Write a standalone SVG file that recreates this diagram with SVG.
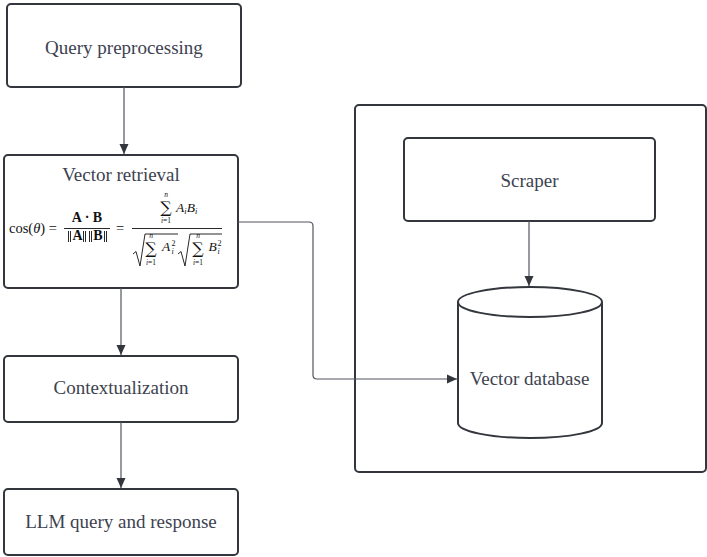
<svg xmlns="http://www.w3.org/2000/svg" width="707" height="557" viewBox="0 0 707 557">
  <style>
    .box { fill: #ffffff; stroke: #33363d; stroke-width: 2; }
    .lbl { font-family: "Liberation Serif", "DejaVu Serif", serif; font-size: 19px; fill: #3d4250; text-anchor: middle; }
    .wire { fill: none; stroke: #50555e; stroke-width: 1.2; }
    .m { font-family: "Liberation Serif", "DejaVu Serif", serif; fill: #111; }
    .sig { font-family: "DejaVu Serif", serif; fill: #111; font-size: 16px; text-anchor: middle; }
    .lim { font-family: "Liberation Serif", "DejaVu Serif", serif; fill: #111; font-size: 7.5px; text-anchor: middle; }
    .mi { font-style: italic; }
    .mb { font-weight: bold; }
    .rule { stroke: #111; stroke-width: 0.9; fill: none; }
  </style>
  <defs>
    <marker id="arrow" markerUnits="userSpaceOnUse" markerWidth="10" markerHeight="12" viewBox="0 0 10 12" refX="10" refY="6" orient="auto">
      <path d="M0,1.5 L10,6 L0,10.5 z" fill="#33363d"/>
    </marker>
  </defs>

  <rect width="707" height="557" fill="#ffffff"/>

  <!-- outer container for the ingestion side -->
  <g id="ingest-container">
    <rect class="box" x="355" y="105" width="351" height="367" rx="4"/>
  </g>

  <g id="query-preprocessing">
    <rect class="box" x="7" y="4" width="234" height="83" rx="4"/>
    <text class="lbl" x="124" y="54">Query preprocessing</text>
  </g>

  <g id="vector-retrieval">
    <rect class="box" x="4" y="155" width="234" height="133" rx="4"/>
    <text class="lbl" x="121" y="181">Vector retrieval</text>
    <!-- cosine similarity formula -->
    <g id="formula">
      <text class="m" x="9" y="233" font-size="14.5">cos(<tspan class="mi">θ</tspan>) =</text>
      <text class="m mb" x="87" y="222" font-size="14" text-anchor="middle">A · B</text>
      <line class="rule" x1="64" y1="228.5" x2="110" y2="228.5"/>
      <!-- norm bars drawn as strokes -->
      <path class="rule" d="M68.5,231 V242 M70.5,231 V242 M83.5,231 V242 M85.5,231 V242 M89.5,231 V242 M91.5,231 V242 M104.5,231 V242 M106.5,231 V242"/>
      <text class="m mb" x="77.5" y="240" font-size="14" text-anchor="middle">A</text>
      <text class="m mb" x="98" y="240" font-size="14" text-anchor="middle">B</text>
      <text class="m" x="116" y="233" font-size="14.5">=</text>
      <line class="rule" x1="132" y1="228.5" x2="222" y2="228.5"/>
      <!-- numerator -->
      <text class="lim mi" x="166" y="197">n</text>
      <text class="sig" x="166" y="213">∑</text>
      <text class="lim" x="166" y="222.5"><tspan class="mi">i</tspan>=1</text>
      <text class="m mi" x="176" y="212" font-size="13.5">A<tspan font-size="8.5" dy="2">i</tspan><tspan dy="-2">B</tspan><tspan font-size="8.5" dy="2">i</tspan></text>
      <!-- denominator, first root -->
      <path class="rule" d="M133,254 L136,251.5 L140,266 L145,234 L178,234"/>
      <text class="lim mi" x="151" y="238">n</text>
      <text class="sig" x="151" y="254" font-size="15">∑</text>
      <text class="lim" x="151" y="264.5"><tspan class="mi">i</tspan>=1</text>
      <text class="m mi" x="162" y="251" font-size="13.5">A</text>
      <text class="m mi" x="171.5" y="254" font-size="8">i</text>
      <text class="m" x="171.5" y="245.5" font-size="8">2</text>
      <!-- denominator, second root -->
      <path class="rule" d="M178,254 L181,251.5 L185,266 L190,234 L222,234"/>
      <text class="lim mi" x="198" y="238">n</text>
      <text class="sig" x="198" y="254" font-size="15">∑</text>
      <text class="lim" x="198" y="264.5"><tspan class="mi">i</tspan>=1</text>
      <text class="m mi" x="208.5" y="251" font-size="13.5">B</text>
      <text class="m mi" x="217.5" y="254" font-size="8">i</text>
      <text class="m" x="217.5" y="245.5" font-size="8">2</text>
    </g>
  </g>

  <g id="contextualization">
    <rect class="box" x="4" y="356" width="234" height="66" rx="4"/>
    <text class="lbl" x="121" y="394">Contextualization</text>
  </g>

  <g id="llm-query">
    <rect class="box" x="4" y="489" width="234" height="66" rx="4"/>
    <text class="lbl" x="121" y="528">LLM query and response</text>
  </g>

  <g id="scraper">
    <rect class="box" x="404" y="138" width="251" height="83" rx="4"/>
    <text class="lbl" x="529.5" y="187">Scraper</text>
  </g>

  <g id="vector-database">
    <path class="box" d="M458,302 L458,423 A72,15 0 0 0 602,423 L602,302 A72,15 0 0 0 458,302 z"/>
    <path class="box" d="M458,302 A72,15 0 0 0 602,302" fill="none"/>
    <text class="lbl" x="529.5" y="385">Vector database</text>
  </g>

  <g id="connectors">
    <path class="wire" d="M124,87 L124,154" marker-end="url(#arrow)"/>
    <path class="wire" d="M121,288 L121,355" marker-end="url(#arrow)"/>
    <path class="wire" d="M121,422 L121,488" marker-end="url(#arrow)"/>
    <path class="wire" d="M529,221 L529,286" marker-end="url(#arrow)"/>
    <path class="wire" d="M238,222 L309,222 Q313,222 313,226 L313,375 Q313,379 317,379 L457,379" marker-end="url(#arrow)"/>
  </g>
</svg>
